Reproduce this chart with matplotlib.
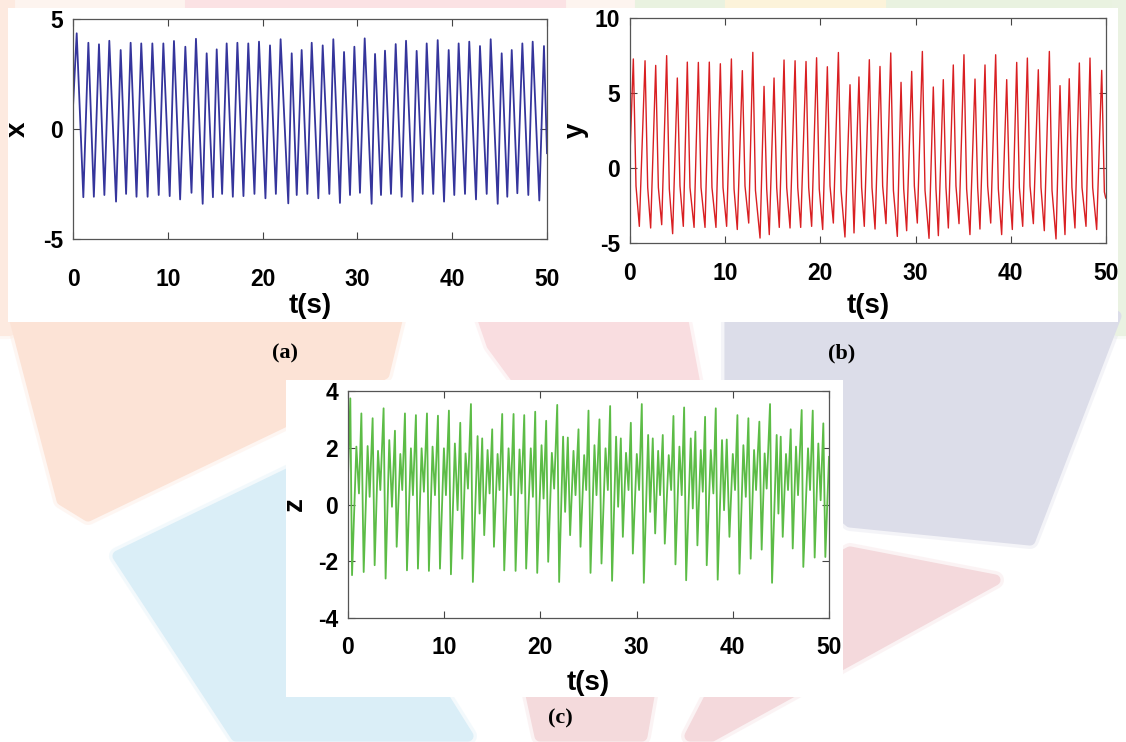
import matplotlib
matplotlib.use('Agg')
import matplotlib.pyplot as plt
from matplotlib.patches import Polygon, Rectangle
import numpy as np

plt.rcParams['font.family'] = ['Liberation Sans', 'DejaVu Sans']
plt.rcParams['axes.unicode_minus'] = False

# ---- data (extrema of each signal) ----
x_peak_t = [0.39, 1.62, 2.74, 3.83, 5.03, 6.08, 7.20, 8.37, 9.53, 10.65, 11.85, 12.97, 14.10, 15.16, 16.21,
            17.34, 18.49, 19.62, 20.78, 21.90, 23.07, 24.12, 25.18, 26.34, 27.46, 28.59, 29.68, 30.77, 31.86,
            32.91, 34.04, 35.13, 36.25, 37.31, 38.47, 39.63, 40.68, 41.80, 42.93, 44.06, 45.22, 46.28, 47.40,
            48.49, 49.68]
x_peak_v = [4.35, 3.92, 3.85, 4.01, 3.59, 3.92, 3.89, 3.89, 3.89, 4.00, 3.74, 4.10, 3.44, 3.62, 3.89,
            3.92, 3.89, 3.97, 3.80, 4.08, 3.44, 3.59, 3.92, 3.80, 4.08, 3.50, 3.74, 4.12, 3.41,
            3.56, 3.86, 4.01, 3.55, 3.89, 4.04, 3.59, 3.89, 3.97, 3.77, 4.08, 3.44, 3.59, 3.89,
            3.97, 3.77]
x_trough_t = [1.09, 2.20, 3.31, 4.54, 5.60, 6.70, 7.87, 9.04, 10.20, 11.30, 12.50, 13.68, 14.76, 15.73,
              16.86, 17.98, 19.14, 20.30, 21.40, 22.71, 23.60, 24.72, 25.88, 27.04, 28.16, 29.22, 30.27,
              31.50, 32.49, 33.54, 34.67, 35.83, 36.89, 38.00, 39.14, 40.22, 41.35, 42.51, 43.64, 44.80,
              45.81, 46.87, 48.03, 49.19]
x_trough_v = [-3.10, -3.08, -3.00, -3.30, -2.95, -3.08, -3.08, -3.00, -3.05, -3.20, -2.90, -3.40, -3.10, -2.95,
              -3.08, -3.05, -2.95, -3.15, -2.95, -3.38, -3.00, -2.95, -3.15, -2.95, -3.36, -3.00, -2.90,
              -3.40, -3.00, -2.95, -3.08, -3.30, -2.95, -2.95, -3.30, -3.00, -2.95, -3.20, -2.95, -3.40,
              -3.08, -2.92, -3.00, -3.25]
x_ends_t = [0.0, 50.0]
x_ends_v = [1.0, -1.1]

y_peak_t = [0.35, 1.58, 2.70, 3.85, 4.97, 6.02, 7.18, 8.33, 9.49, 10.65, 11.80, 12.90, 14.08, 15.13, 16.18,
            17.34, 18.49, 19.60, 20.73, 21.89, 23.11, 24.05, 25.14, 26.26, 27.39, 28.47, 29.59, 30.71, 31.86,
            32.91, 33.96, 35.08, 36.24, 37.29, 38.41, 39.57, 40.62, 41.74, 42.89, 44.05, 45.17, 46.14, 47.20,
            48.32, 49.55]
y_peak_v = [7.27, 7.15, 6.84, 7.49, 6.00, 7.06, 7.04, 7.06, 6.95, 7.27, 6.49, 7.71, 5.44, 6.00, 7.20,
            7.15, 7.10, 7.35, 6.75, 7.70, 5.55, 6.07, 7.22, 6.77, 7.67, 5.71, 6.44, 7.77, 5.40,
            5.89, 6.87, 7.55, 5.93, 6.87, 7.55, 5.89, 7.04, 7.33, 6.55, 7.77, 5.49, 5.95, 7.00,
            7.33, 6.51]
y_knee_t = [0.63, 1.86, 2.98, 4.13, 5.25, 6.30, 7.46, 8.61, 9.77, 10.93, 12.08, 13.18, 14.36, 15.41, 16.46,
            17.62, 18.77, 19.88, 21.01, 22.17, 23.39, 24.33, 25.42, 26.54, 27.67, 28.75, 29.87, 30.99, 32.14,
            33.19, 34.24, 35.36, 36.52, 37.57, 38.69, 39.85, 40.90, 42.02, 43.17, 44.33, 45.45, 46.42, 47.48,
            48.60, 49.83]
y_knee_v = [-1.2, -1.3, -1.3, -1.4, -1.2, -1.3, -1.3, -1.3, -1.3, -1.4, -1.2, -1.5, -1.4, -1.3, -1.3,
            -1.3, -1.3, -1.4, -1.2, -1.5, -1.4, -1.3, -1.3, -1.2, -1.5, -1.4, -1.2, -1.5, -1.4,
            -1.3, -1.2, -1.4, -1.3, -1.2, -1.4, -1.3, -1.3, -1.2, -1.3, -1.5, -1.4, -1.3, -1.3,
            -1.3, -1.6]
y_trough_t = [0.98, 2.17, 3.33, 4.48, 5.60, 6.73, 7.88, 9.03, 10.15, 11.27, 12.47, 13.66, 14.63, 15.68,
              16.81, 17.93, 19.08, 20.24, 21.36, 22.58, 23.53, 24.61, 25.74, 26.89, 28.08, 29.06, 30.18,
              31.41, 32.39, 33.44, 34.56, 35.71, 36.76, 37.89, 39.04, 40.16, 41.25, 42.37, 43.52, 44.75,
              45.69, 46.74, 47.90, 49.02]
y_trough_v = [-3.89, -4.00, -3.78, -4.38, -3.89, -3.96, -3.96, -3.96, -3.89, -4.10, -3.67, -4.67, -4.44, -3.96,
              -4.00, -3.96, -3.89, -4.10, -3.67, -4.60, -4.33, -3.89, -4.07, -3.71, -4.56, -4.18, -3.67,
              -4.69, -4.51, -4.00, -3.71, -4.44, -4.07, -3.67, -4.44, -4.10, -3.89, -3.71, -4.18, -4.73,
              -4.44, -4.00, -3.89, -4.10]
y_ends_t = [0.0, 49.97]
y_ends_v = [0.9, -2.0]

z_t = [0.00, 0.24, 0.42, 0.87, 1.14, 1.39, 1.63, 2.04, 2.25, 2.56, 2.77, 3.12, 3.36, 3.70, 3.91, 4.29,
       4.57, 4.88, 5.06, 5.44, 5.64, 5.92, 6.13, 6.54, 6.75, 7.06, 7.27, 7.65, 7.89, 8.21, 8.41, 8.79,
       9.04, 9.35, 9.56, 9.97, 10.18, 10.49, 10.70, 11.11, 11.39, 11.67, 11.88, 12.22, 12.47, 12.78,
       12.98, 13.47, 13.68, 13.95, 14.16, 14.51, 14.72, 14.99, 15.17, 15.55, 15.75, 16.03, 16.24, 16.69,
       16.93, 17.21, 17.42, 17.83, 18.04, 18.32, 18.52, 19.00, 19.22, 19.46, 19.67, 20.12, 20.33, 20.60,
       20.81, 21.19, 21.43, 21.75, 21.95, 22.36, 22.57, 22.85, 23.09, 23.44, 23.65, 23.96, 24.17, 24.55,
       24.76, 25.00, 25.21, 25.62, 25.83, 26.14, 26.35, 26.77, 27.01, 27.25, 27.45, 27.87, 28.08, 28.36,
       28.57, 28.90, 29.16, 29.40, 29.61, 30.02, 30.26, 30.54, 30.75, 31.20, 31.41, 31.68, 31.93, 32.24,
       32.44, 32.72, 32.93, 33.34, 33.59, 33.83, 34.04, 34.45, 34.69, 34.94, 35.15, 35.63, 35.84, 36.11,
       36.32, 36.67, 36.88, 37.12, 37.29, 37.71, 37.98, 38.23, 38.43, 38.88, 39.09, 39.37, 39.65, 40.00,
       40.23, 40.48, 40.69, 41.10, 41.35, 41.62, 41.86, 42.21, 42.42, 42.76, 43.00, 43.31, 43.52, 43.87,
       44.08, 44.56, 44.74, 44.98, 45.19, 45.53, 45.74, 46.02, 46.23, 46.57, 46.78, 47.16, 47.33, 47.82,
       48.03, 48.31, 48.51, 48.89, 49.13, 49.41, 49.62, 50.00]
z_v = [0.98, 3.74, -2.49, 2.04, 0.39, 3.21, -2.38, 2.06, 0.27, 3.04, -2.14, 1.89, 0.51, 3.39, -2.61, 2.27,
       -0.08, 2.60, -1.49, 1.78, 0.51, 3.21, -2.32, 1.98, 0.33, 3.15, -2.26, 1.98, 0.45, 3.21, -2.34, 2.04,
       0.33, 3.13, -2.26, 1.98, 0.33, 3.31, -2.46, 2.15, -0.20, 2.88, -1.91, 1.80, 0.56, 3.54,
       -2.73, 2.41, -0.32, 2.33, -1.08, 1.92, 0.39, 2.65, -1.49, 1.78, 0.51, 3.19, -2.32, 1.98,
       0.33, 3.19, -2.34, 1.94, 0.39, 3.15, -2.26, 1.98, 0.27, 3.27, -2.41, 2.09, 0.21, 2.95,
       -2.02, 1.82, 0.56, 3.51, -2.73, 2.39, -0.26, 2.36, -1.08, 1.89, 0.33, 2.65, -1.49, 1.74,
       0.51, 3.31, -2.41, 2.09, 0.33, 3.00, -2.08, 1.98, 0.51, 3.47, -2.69, 2.39, -0.08, 2.33,
       -1.14, 1.82, 0.51, 2.88, -1.73, 1.78, 0.51, 3.54, -2.76, 2.45, -0.26, 2.33, -1.02, 1.89,
       0.33, 2.45, -1.38, 1.74, 0.51, 3.12, -2.11, 2.04, 0.33, 3.42, -2.67, 2.33, -0.14, 2.57,
       -1.44, 1.92, 0.45, 3.09, -2.14, 1.92, 0.39, 3.39, -2.65, 2.27, -0.20, 2.29, -1.14, 1.78,
       0.51, 3.15, -2.44, 2.09, 0.27, 3.04, -1.91, 1.92, 0.51, 2.92, -1.59, 1.80, 0.56, 3.54,
       -2.76, 2.45, -0.32, 2.39, -1.14, 1.78, 0.51, 2.65, -1.55, 2.04, 0.33, 3.33, -2.20, 1.98,
       0.51, 3.31, -1.87, 2.15, 0.15, 2.86, -1.85, 1.68]


def merge(ts, vs):
    t = np.concatenate([np.asarray(a, float) for a in ts])
    v = np.concatenate([np.asarray(a, float) for a in vs])
    order = np.argsort(t, kind='stable')
    return t[order], v[order]


xt, xv = merge([x_ends_t, x_peak_t, x_trough_t], [x_ends_v, x_peak_v, x_trough_v])
yt, yv = merge([y_ends_t, y_peak_t, y_knee_t, y_trough_t], [y_ends_v, y_peak_v, y_knee_v, y_trough_v])

W, H = 1126, 742
fig = plt.figure(figsize=(W / 100, H / 100), dpi=100, facecolor='white')


def pts(coords):
    # pixel coords (y down) -> figure fraction
    return [(x / W, 1 - y / H) for x, y in coords]


# faded logo in the background
petals = [
    ([(0, 0), (1126, 0), (1126, 9), (0, 9)], '#fdf4ef'),
    ([(190, 0), (560, 0), (560, 9), (190, 9)], '#fbe2e4'),
    ([(640, 0), (1126, 0), (1126, 9), (640, 9)], '#e9f2e0'),
    ([(730, 0), (880, 0), (880, 9), (730, 9)], '#fcf3da'),
    ([(0, 0), (9, 0), (9, 330), (0, 330)], '#fdeae0'),
    ([(1117, 0), (1126, 0), (1126, 330), (1117, 330)], '#eaf2e2'),
    ([(14, 316), (398, 316), (384, 374), (88, 516), (62, 500)], '#fce3d6'),
    ([(482, 316), (682, 316), (696, 390), (525, 390), (492, 345)], '#f9dde0'),
    ([(730, 316), (1116, 316), (1030, 540), (850, 522), (730, 420)], '#dcdde9'),
    ([(118, 556), (300, 468), (468, 736), (236, 736)], '#daeef7'),
    ([(850, 552), (995, 580), (712, 736), (690, 736), (760, 600)], '#f4d9dc'),
    ([(530, 690), (650, 690), (642, 736), (540, 736)], '#f4dadc'),
]
for coords, col in petals:
    # faint soft edge, then the shape itself
    fig.add_artist(Polygon(pts(coords), closed=True, transform=fig.transFigure, facecolor=col,
                           edgecolor=col, linewidth=13, joinstyle='round', alpha=0.3, zorder=-4))
    fig.add_artist(Polygon(pts(coords), closed=True, transform=fig.transFigure, facecolor=col,
                           edgecolor=col, linewidth=8, joinstyle='round', zorder=-3))

# white panels behind the plots
for x0, y0, x1, y1 in [(8, 8, 1118, 322), (286, 380, 843, 697)]:
    fig.add_artist(Rectangle((x0 / W, 1 - y1 / H), (x1 - x0) / W, (y1 - y0) / H,
                             transform=fig.transFigure, facecolor='white', edgecolor='none', zorder=-2))

panels = [
    # left, top, right, bottom (px), series, color, ylabel, yticks, x tick pad, line width,
    # ylabel x (px), xlabel y (px)
    (73, 19, 547, 239, (xt, xv), '#35359c', 'x', [-5, 0, 5], 21, 1.3, 18, 306),
    (630, 18, 1106, 243, (yt, yv), '#d91f22', 'y', [-5, 0, 5, 10], 14, 1.0, 576, 306),
    (348, 391, 829, 618, (np.array(z_t), np.array(z_v)), '#5cbc46', 'z', [-4, -2, 0, 2, 4], 13, 1.3, 295, 683),
]

tick_font = dict(fontsize=16.5, fontweight='bold')
for left, top, right, bottom, (t, v), col, lab, yticks, xpad, lw, ylab_x, xlab_y in panels:
    ax = fig.add_axes([left / W, 1 - bottom / H, (right - left) / W, (bottom - top) / H])
    ax.plot(t, v, color=col, linewidth=lw)
    ax.set_xlim(0, 50)
    ax.set_ylim(yticks[0], yticks[-1])
    ax.set_xticks([0, 10, 20, 30, 40, 50])
    ax.set_yticks(yticks)
    ax.set_xticklabels([str(k) for k in [0, 10, 20, 30, 40, 50]], **tick_font)
    ax.set_yticklabels([str(k) for k in yticks], **tick_font)
    ax.tick_params(direction='in', length=5, width=0.8, color='#444444', top=True, right=True)
    ax.tick_params(axis='x', pad=xpad)
    ax.tick_params(axis='y', pad=7)
    for s in ax.spines.values():
        s.set_color('#555555')
        s.set_linewidth(0.9)
    h = bottom - top
    wd = right - left
    ax.set_xlabel('t(s)', fontsize=20, fontweight='bold', va='center')
    ax.xaxis.set_label_coords(0.5, -(xlab_y - bottom) / h)
    ax.set_ylabel(lab, fontsize=20, fontweight='bold', va='center')
    ax.yaxis.set_label_coords(-(left - ylab_x) / wd, 0.5)

# sub-figure captions
for s, x, y in [('(a)', 285, 353), ('(b)', 842, 353), ('(c)', 560, 718)]:
    fig.text(x / W, 1 - y / H, s, family='Liberation Serif', fontsize=16, fontweight='bold',
             ha='center', va='center')

fig.savefig('out.png', dpi=100)
